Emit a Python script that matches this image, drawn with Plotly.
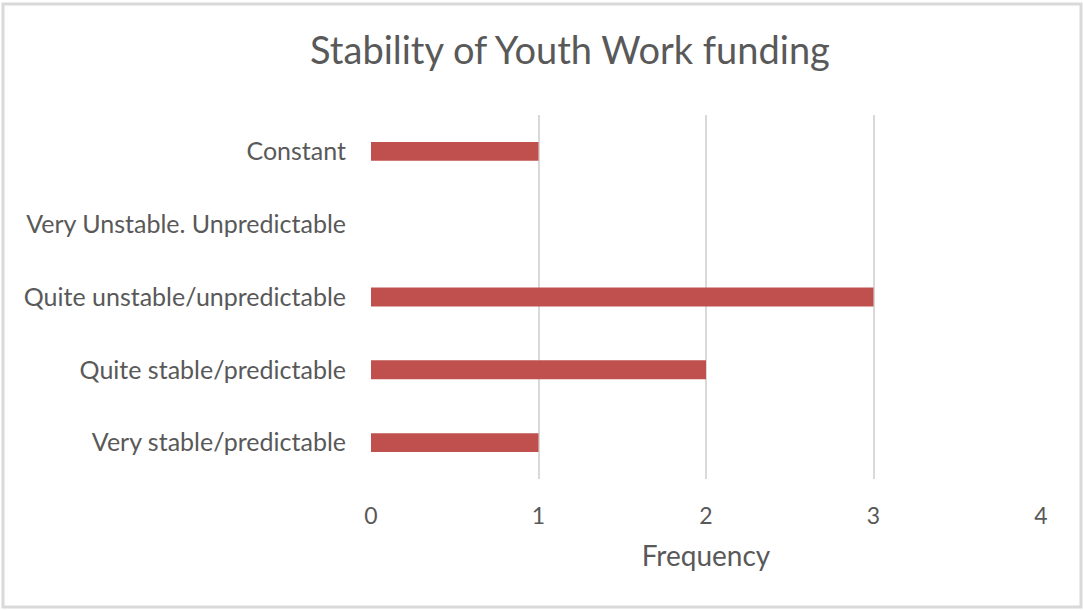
import plotly.graph_objects as go

categories = ["Very stable/predictable", "Quite stable/predictable",
              "Quite unstable/unpredictable", "Very Unstable. Unpredictable", "Constant"]
values = [1, 2, 3, 0, 1]
x_ticks = [0, 1, 2, 3, 4]

W, H = 1083, 610
L, R, T, B = 371, 42, 115, 131
pw, ph = W - L - R, H - T - B

fig = go.Figure(go.Bar(
    y=categories, x=values, orientation="h",
    marker=dict(color="#C0504D", line=dict(width=0)),
    width=0.26,
))

font = "Lato, 'Open Sans', sans-serif"
fig.update_layout(
    width=W, height=H,
    margin=dict(l=L, r=R, t=T, b=B, autoexpand=False),
    paper_bgcolor="white", plot_bgcolor="white",
    font=dict(family=font, color="#595959"),
    title=dict(text="Stability of Youth Work funding", x=570 / W, xref="container",
               xanchor="center", y=1 - 51 / H, yref="container", yanchor="middle",
               font=dict(size=38, color="#595959")),
    showlegend=False,
)
fig.update_xaxes(
    range=[0, 4], tickvals=x_ticks, showgrid=True, gridcolor="#D9D9D9", gridwidth=2,
    zeroline=False, showline=False, ticks="", ticklabelstandoff=21,
    tickfont=dict(size=23, color="#595959"),
    title=dict(text="Frequency", font=dict(size=28, color="#595959"), standoff=18),
)
fig.update_yaxes(
    categoryorder="array", categoryarray=categories, showgrid=False, zeroline=False,
    showline=False, ticks="", ticklabelstandoff=24,
    tickfont=dict(size=25, color="#595959"),
)
# outer chart border
fig.add_shape(type="rect", xref="paper", yref="paper",
              x0=(3 - L) / pw, x1=(1081 - L) / pw,
              y0=(H - B - 607) / ph, y1=(H - B - 4) / ph,
              line=dict(color="#D9D9D9", width=3), fillcolor="rgba(0,0,0,0)", layer="below")
fig.write_html("out.html", config={"displayModeBar": False},
               post_script="document.body.style.margin='0';")
